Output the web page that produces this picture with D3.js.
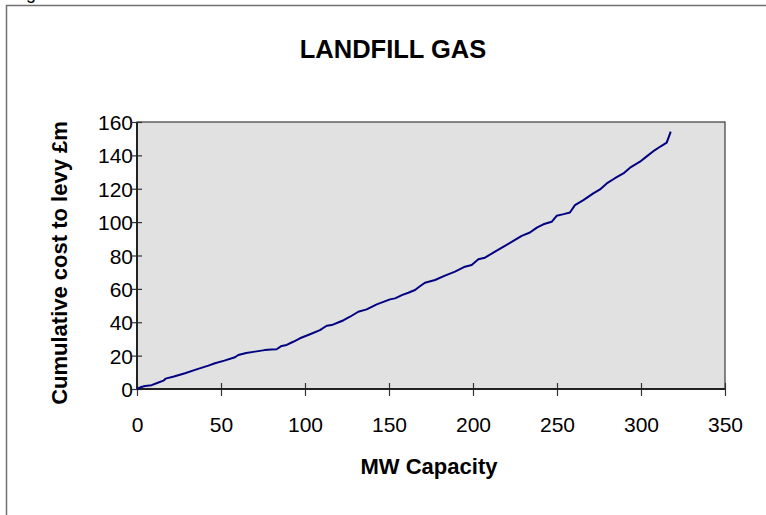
<!DOCTYPE html>
<html>
<head>
<meta charset="utf-8">
<script src="https://cdn.jsdelivr.net/npm/d3@7"></script>
<style>
  html, body { margin: 0; padding: 0; background: #fff; }
  svg { display: block; font-family: Arial, "Liberation Sans", sans-serif; }
</style>
</head>
<body>
<svg id="chart" width="766" height="515"></svg>
<script>
// ---- data ----
const chartTitle = "LANDFILL GAS";
const xAxisTitle = "MW Capacity";
const yAxisTitle = "Cumulative cost to levy £m";
const xTicks = [0, 50, 100, 150, 200, 250, 300, 350];
const yTicks = [0, 20, 40, 60, 80, 100, 120, 140, 160];
const mwCapacity = [0, 2, 4.8, 8.7, 12, 15.7, 17, 22, 28.6, 35, 42.5, 46.4, 52, 58.3, 60.3, 65, 70.2, 76, 80, 83.1,
  86.1, 89.1, 93, 97, 103, 108.9, 112.9, 115.9, 120.8, 123, 126.8, 131.7, 136.7, 142.7, 150.6, 153.6, 158, 161.5,
  165.5, 168, 171.4, 177.4, 183.3, 189.3, 195.2, 199.2, 203.2, 207.1, 213.1, 219, 225, 229, 233.9, 238, 241.9,
  246.8, 249.8, 254, 257.7, 260.7, 265.7, 271.6, 275.6, 279.6, 284.5, 289.5, 293.5, 299.4, 303.4, 308.3, 312,
  315.3, 317.7];
const cumulativeCost = [0, 1, 1.8, 2.3, 3.6, 5, 6.2, 7.5, 9.4, 11.6, 14, 15.4, 17, 19, 20.4, 21.6, 22.4, 23.3, 23.6, 23.8,
  25.8, 26.4, 28.3, 30.4, 32.8, 35.3, 37.9, 38.3, 40.3, 41.2, 43.3, 46.3, 47.7, 50.7, 53.7, 54.3, 56.4, 57.7,
  59.3, 61.3, 63.7, 65.3, 67.9, 70.3, 73.3, 74.3, 77.7, 78.7, 82.3, 85.7, 89.3, 91.8, 93.8, 96.7, 98.7,
  100.2, 103.8, 104.8, 105.8, 110.2, 113.2, 117.2, 119.6, 123.2, 126.3, 129.2, 132.6, 136.2, 139.4, 143.2, 145.6,
  147.6, 154.2];

// ---- layout ----
const svg = d3.select("#chart");
const plot = { left: 137, right: 725, top: 122, bottom: 389 };

const x = d3.scaleLinear().domain([0, 350]).range([plot.left, plot.right]);
const y = d3.scaleLinear().domain([0, 160]).range([plot.bottom, plot.top]);

// outer chart frame
svg.append("rect")
  .attr("x", 6.5).attr("y", 5.5)
  .attr("width", 800).attr("height", 600)
  .attr("fill", "#fff").attr("stroke", "#707070").attr("stroke-width", 1.5);

// text above the frame, cut off by the page edge as in the reference
svg.append("text").attr("x", 26).attr("y", -1)
  .attr("font-size", 18).attr("fill", "#000").text("g");

// plot area
svg.append("rect")
  .attr("x", plot.left).attr("y", plot.top)
  .attr("width", plot.right - plot.left).attr("height", plot.bottom - plot.top)
  .attr("fill", "#e1e1e1").attr("stroke", "#3a3a3a").attr("stroke-width", 1.2);

// axes
const xAxis = d3.axisBottom(x).tickValues(xTicks).tickSize(0).tickPadding(0);
const gx = svg.append("g").attr("transform", `translate(0,${plot.bottom})`).call(xAxis);
gx.select(".domain").remove();
gx.selectAll(".tick line").remove();
gx.selectAll(".tick").append("line")
  .attr("y1", -6).attr("y2", 7).attr("stroke", "#333").attr("stroke-width", 1.2);
gx.selectAll(".tick text")
  .attr("y", 43).attr("dy", null)
  .attr("font-size", 21).attr("font-family", "Arial, 'Liberation Sans', sans-serif").attr("fill", "#000");

const yAxis = d3.axisLeft(y).tickValues(yTicks).tickSize(0).tickPadding(0);
const gy = svg.append("g").attr("transform", `translate(${plot.left},0)`).call(yAxis);
gy.select(".domain").remove();
gy.selectAll(".tick line").remove();
gy.selectAll(".tick").append("line")
  .attr("x1", -7).attr("x2", 5).attr("stroke", "#333").attr("stroke-width", 1.2);
gy.selectAll(".tick text")
  .attr("x", -4).attr("dy", "0.36em")
  .attr("font-size", 21).attr("font-family", "Arial, 'Liberation Sans', sans-serif").attr("fill", "#000");

// axis lines
svg.append("line").attr("x1", plot.left).attr("x2", plot.right)
  .attr("y1", plot.bottom).attr("y2", plot.bottom)
  .attr("stroke", "#222").attr("stroke-width", 2);
svg.append("line").attr("x1", plot.left).attr("x2", plot.left)
  .attr("y1", plot.top).attr("y2", plot.bottom)
  .attr("stroke", "#222").attr("stroke-width", 2);

// series line
const pts = mwCapacity.map((v, i) => [v, cumulativeCost[i]]);
svg.append("path")
  .datum(pts)
  .attr("fill", "none")
  .attr("stroke", "#000080")
  .attr("stroke-width", 2)
  .attr("stroke-linejoin", "round")
  .attr("d", d3.line().x(d => x(d[0])).y(d => y(d[1])));

// titles
svg.append("text").attr("x", 393).attr("y", 58)
  .attr("text-anchor", "middle").attr("font-size", 25.5).attr("font-weight", "bold")
  .text(chartTitle);
svg.append("text").attr("x", 429).attr("y", 474)
  .attr("text-anchor", "middle").attr("font-size", 22).attr("font-weight", "bold")
  .text(xAxisTitle);
svg.append("text")
  .attr("transform", "translate(67,263) rotate(-90)")
  .attr("text-anchor", "middle").attr("font-size", 22).attr("font-weight", "bold")
  .text(yAxisTitle);
</script>
</body>
</html>
